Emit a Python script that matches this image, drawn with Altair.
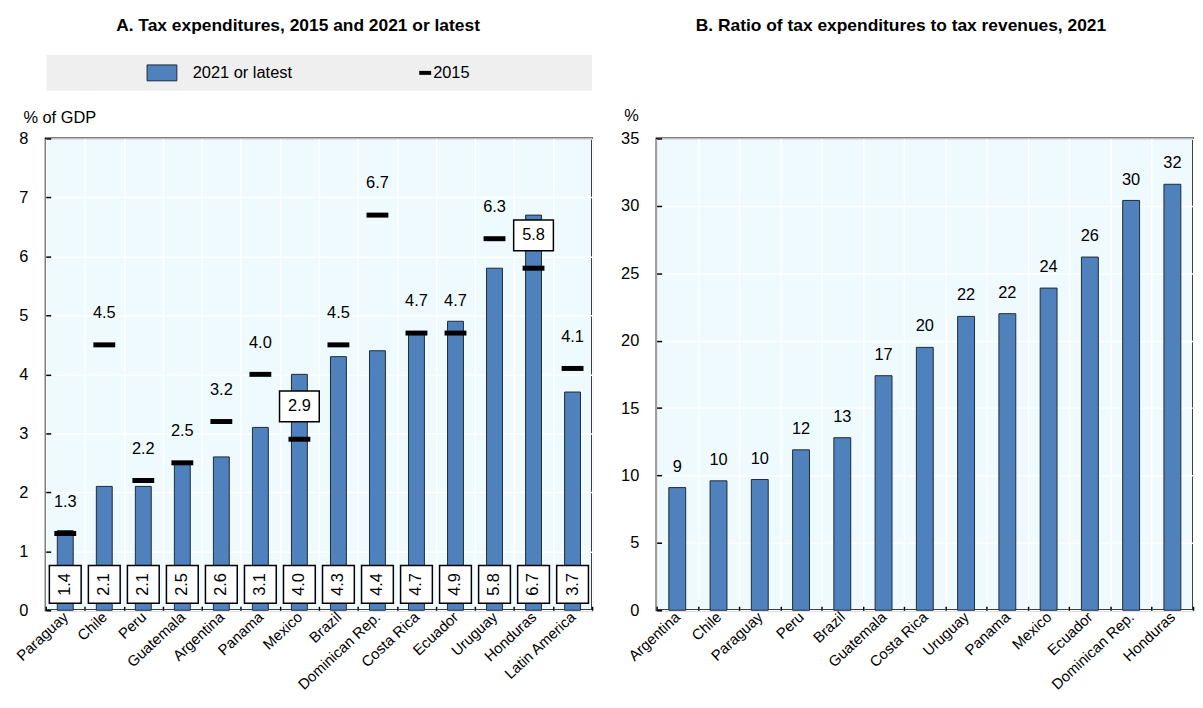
import altair as alt
import pandas as pd

FONT = "Liberation Sans, Arial, sans-serif"

# ---------------- data ----------------
countries_a = ["Paraguay", "Chile", "Peru", "Guatemala", "Argentina", "Panama", "Mexico",
               "Brazil", "Dominican Rep.", "Costa Rica", "Ecuador", "Uruguay", "Honduras",
               "Latin America"]
tax_exp_2021 = [1.35, 2.1, 2.1, 2.5, 2.6, 3.1, 4.0, 4.3, 4.4, 4.7, 4.9, 5.8, 6.7, 3.7]
tax_exp_2015 = [1.3, 4.5, 2.2, 2.5, 3.2, 4.0, 2.9, 4.5, 6.7, 4.7, 4.7, 6.3, 5.8, 4.1]
boxed_2015 = ["Mexico", "Honduras"]

countries_b = ["Argentina", "Chile", "Paraguay", "Peru", "Brazil", "Guatemala", "Costa Rica",
               "Uruguay", "Panama", "Mexico", "Ecuador", "Dominican Rep.", "Honduras"]
ratio_2021 = [9.1, 9.6, 9.7, 11.9, 12.8, 17.4, 19.5, 21.8, 22.0, 23.9, 26.2, 30.4, 31.6]

title_a = "A. Tax expenditures, 2015 and 2021 or latest"
title_b = "B. Ratio of tax expenditures to tax revenues, 2021"
legend_bar = "2021 or latest"
legend_tick = "2015"
y_title_a = "% of GDP"
y_title_b = "%"
y_ticks_a = [0, 1, 2, 3, 4, 5, 6, 7, 8]
y_ticks_b = [0, 5, 10, 15, 20, 25, 30, 35]

# ---------------- style ----------------
BAR = "#4F81BD"
BAR_STROKE = "#1E2A38"
BG = "#EFFAFF"
LEGEND_BG = "#EFEFEF"
W_A, W_B, H = 550, 540, 475
FS = 16.5
XFS = 15
TFS = 17.5
TITLE_Y = -113

df_a = pd.DataFrame({"country": countries_a, "v2021": tax_exp_2021, "v2015": tax_exp_2015})
df_a["boxed"] = df_a["country"].isin(boxed_2015)
df_b = pd.DataFrame({"country": countries_b, "ratio": ratio_2021})
one = alt.Data(values=[{}])


def x_enc(order):
    return alt.X("country:N", sort=order, title=None,
                 scale=alt.Scale(paddingInner=0, paddingOuter=0),
                 axis=alt.Axis(labelAngle=-43, labelAlign="right", labelBaseline="middle",
                               labelPadding=4, labelFontSize=XFS, tickBand="extent",
                               grid=True, domain=False, ticks=True, tickSize=4, offset=-4))


def y_enc(field, domain, ticks, title, title_x, title_y):
    return alt.Y(field, title=title, scale=alt.Scale(domain=domain, nice=False),
                 axis=alt.Axis(values=ticks, format="d", titleAngle=0, titleAlign="left",
                               titleBaseline="middle", titleX=title_x, titleY=title_y,
                               offset=-5, tickSize=5, domain=False, labelPadding=18,
                               grid=True))


xa = x_enc(countries_a)


def ya(field):
    return y_enc(field, [0, 8], y_ticks_a, y_title_a, -28, -21)


base_a = alt.Chart(df_a)

legend_bg = alt.Chart(one).mark_rect(color=LEGEND_BG).encode(
    x=alt.value(1), x2=alt.value(W_A), y=alt.value(-84), y2=alt.value(-48))
legend_sw = alt.Chart(one).mark_rect(fill=BAR, stroke=BAR_STROKE, strokeWidth=1).encode(
    x=alt.value(102), x2=alt.value(132), y=alt.value(-74), y2=alt.value(-58))
legend_t1 = alt.Chart(one).mark_text(align="left", baseline="middle", fontSize=FS).encode(
    x=alt.value(148), y=alt.value(-66), text=alt.value(legend_bar))
legend_dash = alt.Chart(one).mark_rule(color="black", strokeWidth=4).encode(
    x=alt.value(376), x2=alt.value(388), y=alt.value(-66))
legend_t2 = alt.Chart(one).mark_text(align="left", baseline="middle", fontSize=FS).encode(
    x=alt.value(390), y=alt.value(-66), text=alt.value(legend_tick))
ttl_a = alt.Chart(one).mark_text(align="center", baseline="middle", fontSize=TFS,
                                 fontWeight="bold").encode(
    x=alt.value(254), y=alt.value(TITLE_Y), text=alt.value(title_a))

bars_a = base_a.mark_bar(size=16, color=BAR, stroke=BAR_STROKE, strokeWidth=1).encode(
    x=xa, y=ya("v2021:Q"))
ticks_a = base_a.mark_tick(color="black", thickness=5, size=22, opacity=1).encode(
    x=xa, y=ya("v2015:Q"))

bottom_box_shape = "M-1.6,-4.5L1.6,-4.5L1.6,-0.7L-1.6,-0.7Z"
bottom_boxes = base_a.mark_point(shape=bottom_box_shape, size=400, filled=True, fill="white",
                                 stroke="black", strokeWidth=1.5, opacity=1).encode(
    x=xa, y=alt.datum(0))
bottom_text = base_a.mark_text(angle=270, dx=26, align="center", baseline="middle",
                               fontSize=FS).encode(
    x=xa, y=alt.datum(0), text=alt.Text("v2021:Q", format=".1f"))

lab15 = base_a.transform_filter("!datum.boxed").mark_text(
    dy=-32, align="center", baseline="middle", fontSize=FS).encode(
    x=xa, y=ya("v2015:Q"), text=alt.Text("v2015:Q", format=".1f"))
top_box_shape = "M-1,-2.425L1,-2.425L1,-0.875L-1,-0.875Z"
box15 = base_a.transform_filter("datum.boxed").mark_point(
    shape=top_box_shape, size=1600, filled=True, fill="white", stroke="black",
    strokeWidth=1.5, opacity=1).encode(x=xa, y=ya("v2015:Q"))
lab15b = base_a.transform_filter("datum.boxed").mark_text(
    dy=-33, align="center", baseline="middle", fontSize=FS).encode(
    x=xa, y=ya("v2015:Q"), text=alt.Text("v2015:Q", format=".1f"))

panel_a = alt.layer(legend_bg, legend_sw, legend_t1, legend_dash, legend_t2, ttl_a,
                    bars_a, ticks_a, bottom_boxes, bottom_text, lab15, box15, lab15b
                    ).properties(width=W_A, height=H)

# ---------------- panel B ----------------
xb = x_enc(countries_b)


def yb(field):
    return y_enc(field, [0, 35], y_ticks_b, y_title_b, -38, -23)


base_b = alt.Chart(df_b)
ttl_b = alt.Chart(one).mark_text(align="center", baseline="middle", fontSize=TFS,
                                 fontWeight="bold").encode(
    x=alt.value(246), y=alt.value(TITLE_Y), text=alt.value(title_b))
bars_b = base_b.mark_bar(size=17, color=BAR, stroke=BAR_STROKE, strokeWidth=1).encode(
    x=xb, y=yb("ratio:Q"))
lab_b = base_b.mark_text(dy=-21, align="center", baseline="middle", fontSize=FS).encode(
    x=xb, y=yb("ratio:Q"), text=alt.Text("ratio:Q", format=".0f"))

panel_b = alt.layer(ttl_b, bars_b, lab_b).properties(width=W_B, height=H)

chart = alt.hconcat(panel_a, panel_b, spacing=65, bounds="flush").properties(
    padding={"left": 4, "top": 6, "right": 0, "bottom": 0}
).configure_view(
    fill=BG, stroke="black", strokeWidth=2
).configure_axis(
    gridColor="white", gridWidth=1.5, gridOpacity=1,
    labelFont=FONT, labelFontSize=FS, labelColor="black",
    titleFont=FONT, titleFontSize=FS, titleFontWeight="normal", titleColor="black",
    tickColor="black", tickWidth=1.5
).configure_text(font=FONT, color="black")

chart.save("out.html", embed_options={"renderer": "svg", "actions": False})
